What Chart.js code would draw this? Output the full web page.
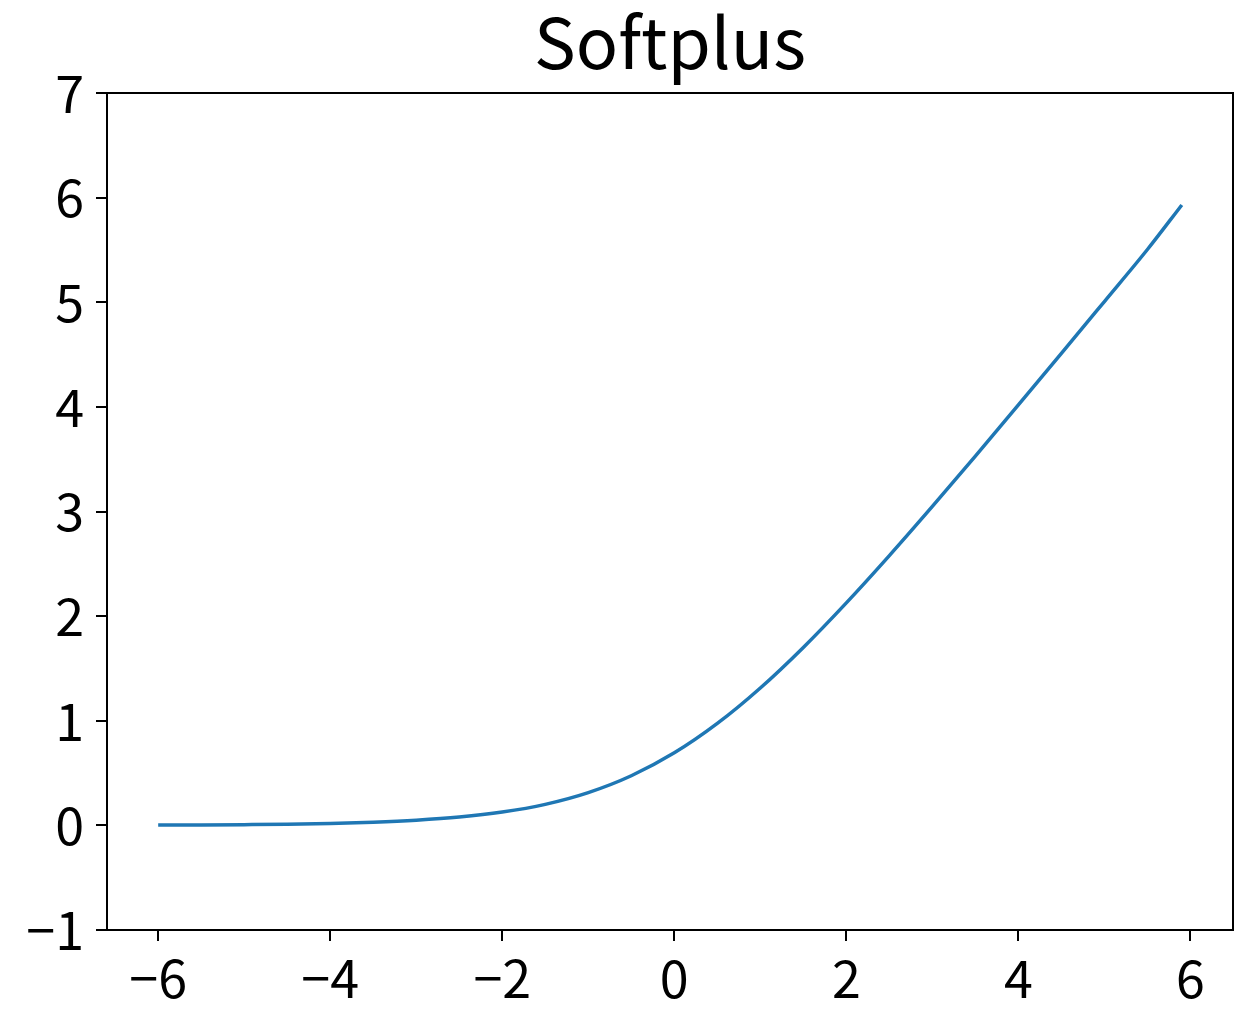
<!DOCTYPE html>
<html>
<head>
<meta charset="utf-8">
<script src="https://cdn.jsdelivr.net/npm/chart.js@4"></script>
<style>
  body { margin: 0; background: #fff; }
  #wrap { width: 1248px; height: 1012px; position: relative; }
</style>
</head>
<body>
<div id="wrap"><canvas id="softplusChart"></canvas></div>
<script>
// values
const xValues = [-6, -5.5, -5, -4.5, -4, -3.5, -3, -2.5, -2, -1.5, -1, -0.5, 0, 0.5, 1, 1.5, 2, 2.5, 3, 3.5, 4, 4.5, 5, 5.5, 5.9];
const yValues = [0.003, 0.004, 0.007, 0.011, 0.018, 0.03, 0.049, 0.079, 0.127, 0.201, 0.313, 0.474, 0.693, 0.974, 1.313, 1.701, 2.127, 2.579, 3.049, 3.53, 4.018, 4.511, 5.007, 5.504, 5.93];
const xTicks = [-6, -4, -2, 0, 2, 4, 6];
const yTicks = [-1, 0, 1, 2, 3, 4, 5, 6, 7];

const fontFamily = "'Noto Sans CJK SC', 'DejaVu Sans', sans-serif";
const minus = v => String(v).replace("-", "\u2212");

// draws the top and right edges of the axes box
const frameBox = {
    id: "frameBox",
    afterDraw(chart) {
        const { ctx, chartArea: a } = chart;
        ctx.save();
        ctx.strokeStyle = "#000";
        ctx.lineWidth = 2;
        ctx.beginPath();
        ctx.moveTo(a.left, a.top);
        ctx.lineTo(a.right, a.top);
        ctx.lineTo(a.right, a.bottom);
        ctx.stroke();
        ctx.restore();
    }
};

const ctx = document.getElementById("softplusChart").getContext("2d");
new Chart(ctx, {
    type: "line",
    data: {
        datasets: [{
            data: xValues.map((x, i) => ({ x: x, y: yValues[i] })),
            borderColor: "#1f77b4",
            borderWidth: 3.5,
            pointRadius: 0,
            cubicInterpolationMode: "monotone",
            fill: false
        }]
    },
    options: {
        responsive: true,
        maintainAspectRatio: false,
        animation: false,
        layout: { padding: { left: 0, right: 15, top: 0, bottom: 0 } },
        plugins: {
            legend: { display: false },
            tooltip: { enabled: false },
            title: {
                display: true,
                text: "Softplus",
                color: "#000",
                fullSize: false,
                font: { family: fontFamily, size: 70, weight: "normal" },
                padding: { top: 0, bottom: 9 }
            }
        },
        scales: {
            x: {
                type: "linear",
                min: -6.595,
                max: 6.495,
                afterBuildTicks: s => { s.ticks = xTicks.map(v => ({ value: v })); },
                afterFit: s => { s.height = 82; },
                grid: { display: true, drawOnChartArea: false, tickLength: 11, color: "#000", lineWidth: 2 },
                border: { display: true, color: "#000", width: 2 },
                ticks: { color: "#000", padding: 6, maxRotation: 0, font: { family: fontFamily, size: 52 }, callback: v => minus(v) }
            },
            y: {
                type: "linear",
                min: -1,
                max: 7,
                afterBuildTicks: s => { s.ticks = yTicks.map(v => ({ value: v })); },
                afterFit: s => { s.width = 107; },
                grid: { display: true, drawOnChartArea: false, tickLength: 11, color: "#000", lineWidth: 2 },
                border: { display: true, color: "#000", width: 2 },
                ticks: { color: "#000", padding: 12, font: { family: fontFamily, size: 52 }, callback: v => minus(v) }
            }
        }
    },
    plugins: [frameBox]
});
</script>
</body>
</html>
